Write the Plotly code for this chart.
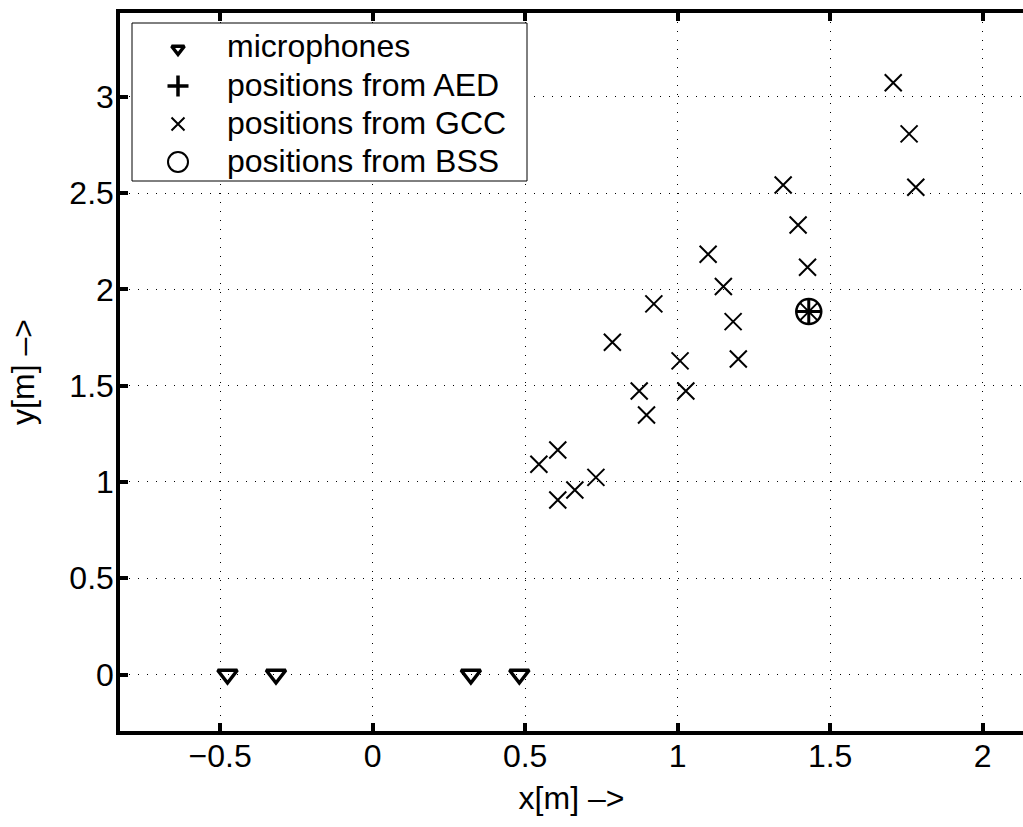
import plotly.graph_objects as go

# microphone array (all on the y = 0 line)
mic_x = [-0.476, -0.317, 0.322, 0.481]
mic_y = [0.0, 0.0, 0.0, 0.0]

# source position estimated with AED
aed_x = [1.430]
aed_y = [1.885]

# source positions estimated with GCC
gcc_x = [1.707, 1.759, 1.781, 1.346, 1.395, 1.426, 1.100, 1.150, 0.922, 0.786, 1.008,
         1.182, 1.199, 0.874, 1.027, 0.898, 0.545, 0.607, 0.607, 0.663, 0.732, 1.430]
gcc_y = [3.074, 2.808, 2.531, 2.543, 2.335, 2.115, 2.183, 2.015, 1.925, 1.726, 1.629,
         1.833, 1.639, 1.473, 1.473, 1.348, 1.092, 1.166, 0.906, 0.958, 1.024, 1.885]

# source position estimated with BSS
bss_x = [1.430]
bss_y = [1.885]

x_ticks = [-0.5, 0, 0.5, 1, 1.5, 2]
x_tick_text = ["\u22120.5", "0", "0.5", "1", "1.5", "2"]
y_ticks = [0, 0.5, 1, 1.5, 2, 2.5, 3]
y_tick_text = ["0", "0.5", "1", "1.5", "2", "2.5", "3"]

legend_names = ["microphones", "positions from AED", "positions from GCC", "positions from BSS"]

FONT = "Liberation Sans, Arial, Helvetica, sans-serif"
W, H = 1023, 827
M_L, M_R, M_T, M_B = 120, 0, 13, 96
X_RANGE = [-0.8285, 2.1325]
Y_RANGE = [-0.2935, 3.436]


def px_to_x(px):
    """Pixel column of the page -> x data value."""
    return X_RANGE[0] + (px - M_L) / (W - M_L - M_R) * (X_RANGE[1] - X_RANGE[0])


def px_to_y(py):
    """Pixel row of the page -> y data value."""
    return Y_RANGE[1] - (py - M_T) / (H - M_T - M_B) * (Y_RANGE[1] - Y_RANGE[0])


mic_style = dict(symbol="triangle-down-open", color="black")
aed_style = dict(symbol="cross-thin-open", color="black")
gcc_style = dict(symbol="x-thin-open", color="black")
bss_style = dict(symbol="circle-open", color="black")

fig = go.Figure()
fig.add_trace(go.Scatter(
    x=mic_x, y=mic_y, mode="markers", name=legend_names[0], showlegend=False,
    marker=dict(mic_style, size=17, line=dict(width=3.5, color="black"))))
fig.add_trace(go.Scatter(
    x=aed_x, y=aed_y, mode="markers", name=legend_names[1], showlegend=False,
    marker=dict(aed_style, size=17, line=dict(width=3, color="black"))))
fig.add_trace(go.Scatter(
    x=gcc_x, y=gcc_y, mode="markers", name=legend_names[2], showlegend=False,
    marker=dict(gcc_style, size=17, line=dict(width=2, color="black"))))
fig.add_trace(go.Scatter(
    x=bss_x, y=bss_y, mode="markers", name=legend_names[3], showlegend=False,
    marker=dict(bss_style, size=25, line=dict(width=2.5, color="black"))))

# legend box drawn by hand (MATLAB-style: tight rows, symbol column, text column)
box_l, box_r, box_t, box_b = 132, 527, 23, 181
fig.add_shape(type="rect", xref="x", yref="y", layer="between",
              x0=px_to_x(box_l), x1=px_to_x(box_r),
              y0=px_to_y(box_b), y1=px_to_y(box_t),
              fillcolor="white", line=dict(color="black", width=1))

row_text = [46, 85, 123, 161]
row_sym = [49, 86, 124, 162]
sym_x = 178
text_x = 225
sym_specs = [
    (mic_style, 11, 3.5),
    (aed_style, 15, 3.5),
    (gcc_style, 13, 2),
    (bss_style, 20, 2),
]
for name, ty, sy, (style, size, lw) in zip(legend_names, row_text, row_sym, sym_specs):
    fig.add_trace(go.Scatter(
        x=[px_to_x(sym_x)], y=[px_to_y(sy)], mode="markers", showlegend=False,
        hoverinfo="skip",
        marker=dict(style, size=size, line=dict(width=lw, color="black"))))
    fig.add_annotation(x=px_to_x(text_x), y=px_to_y(ty), xref="x", yref="y",
                       text=name, showarrow=False, xanchor="left", yanchor="middle",
                       font=dict(family=FONT, size=32, color="black"))

axis_common = dict(
    showgrid=True, gridcolor="black", gridwidth=1, griddash="1px,8px",
    zeroline=False, showline=True, linecolor="black", linewidth=3.5,
    ticks="inside", ticklen=8, tickwidth=3.5, tickcolor="black",
    tickfont=dict(family=FONT, size=32, color="black"),
)

fig.update_layout(
    width=W, height=H,
    margin=dict(l=M_L, r=M_R, t=M_T, b=M_B),
    paper_bgcolor="white", plot_bgcolor="white",
    font=dict(family=FONT, size=32, color="black"),
    xaxis=dict(axis_common, range=X_RANGE, tickvals=x_ticks,
               ticktext=x_tick_text, mirror="ticks", ticklabelstandoff=-6,
               title=dict(text="x[m] \u2013>", font=dict(family=FONT, size=32),
                          standoff=14)),
    yaxis=dict(axis_common, range=Y_RANGE, tickvals=y_ticks,
               ticktext=y_tick_text, mirror=False, ticklabelstandoff=-4,
               title=dict(text="y[m] \u2013>", font=dict(family=FONT, size=32),
                          standoff=26)),
    showlegend=False,
)

fig.write_html("out.html")
